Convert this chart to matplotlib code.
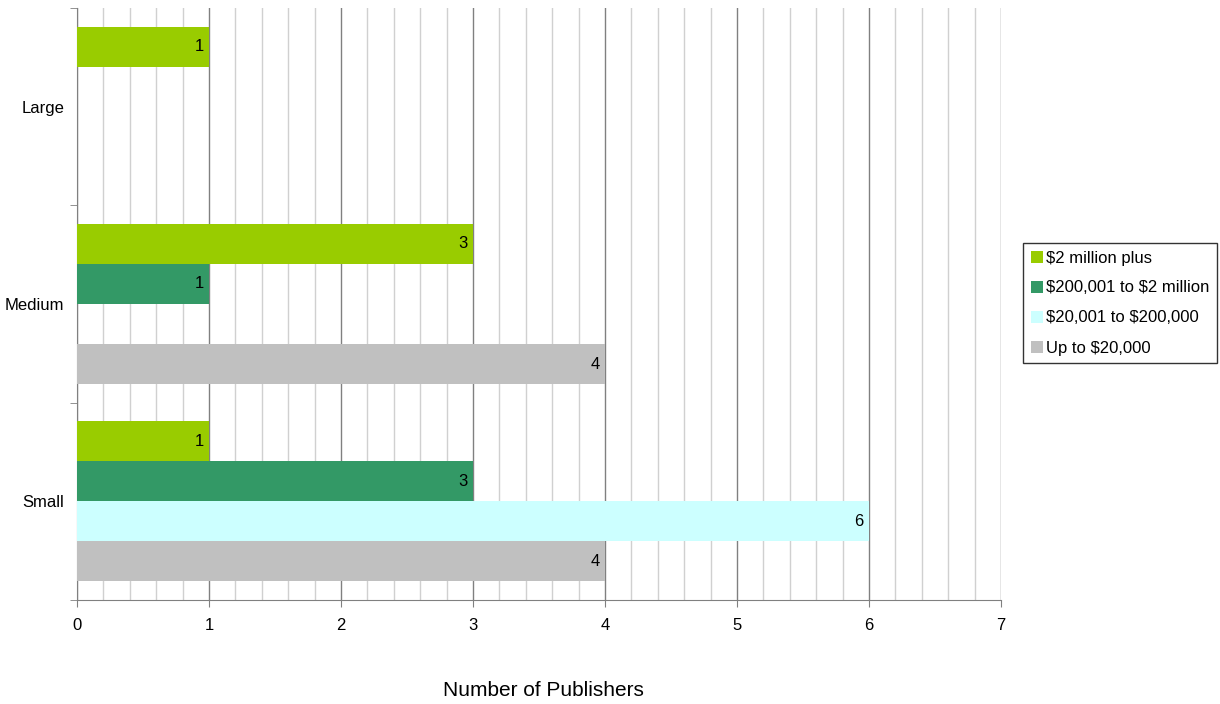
import numpy as np
import matplotlib.pyplot as plt
from matplotlib.ticker import MultipleLocator, FixedLocator

plt.rcParams['font.family'] = ['Liberation Sans', 'DejaVu Sans']
plt.rcParams['text.parse_math'] = False

categories = ["Small", "Medium", "Large"]
series = ["$2 million plus", "$200,001 to $2 million", "$20,001 to $200,000", "Up to $20,000"]
values_2m_plus = [1, 3, 1]
values_200k_2m = [3, 1, 0]
values_20k_200k = [6, 0, 0]
values_upto_20k = [4, 4, 0]
colors = ["#99CC00", "#339966", "#CCFFFF", "#C0C0C0"]

all_values = [values_2m_plus, values_200k_2m, values_20k_200k, values_upto_20k]

fig = plt.figure(figsize=(12.2, 7.04), dpi=100)
ax = fig.add_axes([77 / 1220, 1 - 600 / 704, (1001 - 77) / 1220, (600 - 8) / 704])

h = 0.203
y = np.arange(len(categories))
handles = []
for j, (name, vals, col) in enumerate(zip(series, all_values, colors)):
    offs = (1.5 - j) * h
    bars = ax.barh(y + offs, vals, height=h, color=col, label=name, zorder=3)
    handles.append(bars)
    for yi, v in zip(y + offs, vals):
        if v > 0:
            ax.text(v - 0.04, yi, str(v), ha="right", va="center", fontsize=12, zorder=4)

ax.set_xlim(0, 7)
ax.set_ylim(-0.5, 2.5)
ax.xaxis.set_major_locator(MultipleLocator(1))
ax.xaxis.set_minor_locator(MultipleLocator(0.2))
ax.grid(which="major", axis="x", color="#808080", linewidth=1, zorder=1)
ax.grid(which="minor", axis="x", color="#D0D0D0", linewidth=1, zorder=0)

ax.set_yticks(y)
ax.set_yticklabels(categories, fontsize=12)
ax.yaxis.set_minor_locator(FixedLocator([-0.5, 0.5, 1.5, 2.5]))
ax.tick_params(axis="y", which="major", length=0, pad=9)
ax.tick_params(axis="y", which="minor", length=5, color="#808080")
ax.tick_params(axis="x", which="major", length=5, color="#808080", labelsize=12, pad=8)
ax.tick_params(axis="x", which="minor", length=0)

for s in ["top", "right"]:
    ax.spines[s].set_visible(False)
for s in ["left", "bottom"]:
    ax.spines[s].set_color("#808080")

fig.text(543 / 1220, 1 - 691 / 704, "Number of Publishers", fontsize=15,
         ha="center", va="center")

leg = fig.legend(handles=handles, labels=series, loc="center left",
                 bbox_to_anchor=(1023 / 1220, 1 - 303 / 704), fontsize=12,
                 frameon=True, fancybox=False, edgecolor="black",
                 handlelength=0.75, handleheight=0.75, handletextpad=0.2,
                 labelspacing=0.9, borderpad=0.45, borderaxespad=0)
leg.get_frame().set_linewidth(1)

fig.savefig("out.png", dpi=100)
